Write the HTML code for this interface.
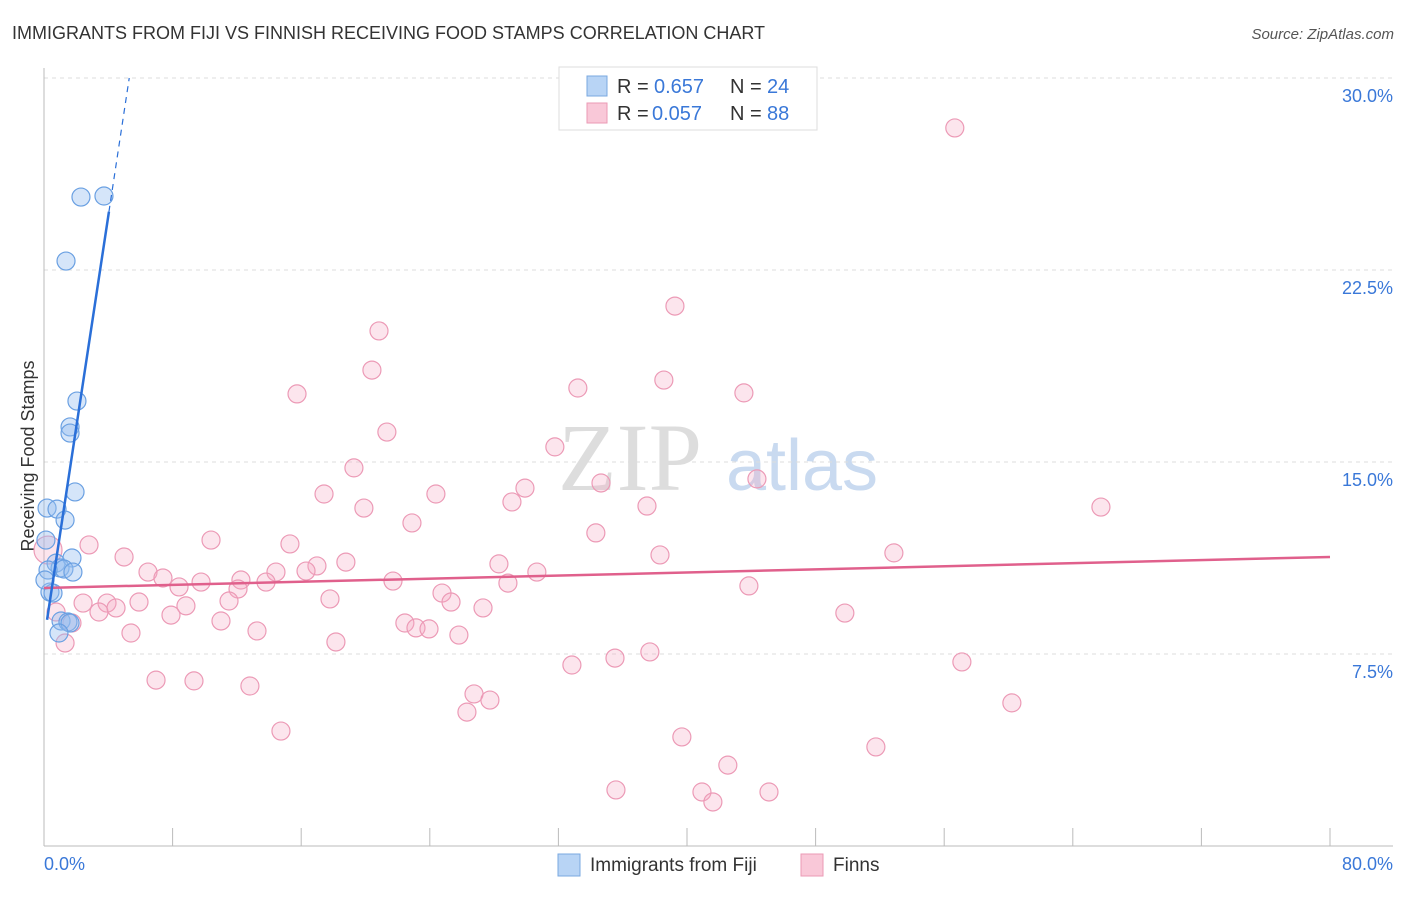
<!DOCTYPE html>
<html><head><meta charset="utf-8"><style>
body{margin:0;background:#fff;font-family:"Liberation Sans",sans-serif;}
</style></head><body>
<svg id="c" width="1406" height="892" xmlns="http://www.w3.org/2000/svg" style="font-family:'Liberation Sans',sans-serif">
<text x="12" y="39" font-size="18" fill="#333">IMMIGRANTS FROM FIJI VS FINNISH RECEIVING FOOD STAMPS CORRELATION CHART</text>
<text x="1394" y="39" font-size="15" fill="#555" text-anchor="end" font-style="italic">Source: ZipAtlas.com</text>
<text x="34" y="456" font-size="18" fill="#333" text-anchor="middle" transform="rotate(-90 34 456)">Receiving Food Stamps</text>
<g><text x="630" y="490" font-size="96" fill="#ddd" text-anchor="middle" font-family="'Liberation Serif',serif">ZIP</text><text x="802" y="490" font-size="72" fill="#c9daf0" text-anchor="middle">atlas</text></g>
<g id="grid"></g><g id="axes"></g><g id="marks"></g>
<g>
<rect x="559" y="67" width="258" height="63" fill="#fff" stroke="#ddd"/>
<rect x="587" y="76" width="20" height="20" fill="#b8d4f5" stroke="#7aa8e0"/>
<rect x="587" y="103" width="20" height="20" fill="#f9c8d8" stroke="#eb9ab5"/>
<text x="617" y="93" font-size="20" fill="#333">R =</text>
<text x="654" y="93" font-size="20" fill="#3a78d8">0.657</text>
<text x="730" y="93" font-size="20" fill="#333">N =</text>
<text x="767" y="93" font-size="20" fill="#3a78d8">24</text>
<text x="617" y="120" font-size="20" fill="#333">R =</text>
<text x="652" y="120" font-size="20" fill="#3a78d8">0.057</text>
<text x="730" y="120" font-size="20" fill="#333">N =</text>
<text x="767" y="120" font-size="20" fill="#3a78d8">88</text>
</g>
<g>
<rect x="558" y="854" width="22" height="22" fill="#b8d4f5" stroke="#7aa8e0"/>
<text x="590" y="871" font-size="19" fill="#333">Immigrants from Fiji</text>
<rect x="801" y="854" width="22" height="22" fill="#f9c8d8" stroke="#eb9ab5"/>
<text x="833" y="871" font-size="19" fill="#333">Finns</text>
</g>
</svg>
<script>
const fijiX=[2.3,3.73,1.37,2.05,1.62,1.62,1.93,0.19,0.81,1.31,0.75,1.74,1.0,1.24,1.8,0.25,0.37,0.56,1.06,1.49,1.62,0.93,0.06,0.12];
const fijiY=[25.35,25.39,22.85,17.38,16.37,16.13,13.83,13.2,13.16,12.73,11.05,11.25,10.86,10.82,10.7,10.78,9.92,9.88,8.79,8.75,8.71,8.32,10.39,11.95];
const finnX=[56.66,39.25,20.84,20.4,38.56,33.21,43.54,15.74,21.33,31.78,19.28,44.35,34.65,29.92,17.42,24.38,29.11,19.9,37.51,65.75,22.89,34.33,2.8,10.39,15.3,4.98,38.32,52.87,18.78,28.3,16.98,6.47,14.43,16.3,30.66,7.4,12.25,8.4,9.77,13.81,21.71,28.86,12.07,43.85,24.76,17.79,2.43,3.92,5.91,11.51,25.32,8.83,3.42,4.48,7.9,27.31,49.82,11.01,22.45,23.14,23.95,5.41,13.25,25.81,18.16,1.31,0.75,1.74,37.69,35.52,32.84,57.1,6.97,9.33,12.81,26.75,27.74,26.31,60.21,14.74,39.68,51.75,42.54,35.58,45.1,40.93,41.61,0.25];
const finnY=[28.05,21.09,20.12,18.59,18.2,17.89,17.7,17.66,16.17,15.59,14.77,14.34,14.18,13.98,13.75,13.75,13.44,13.2,13.28,13.24,12.62,12.23,11.76,11.95,11.8,11.29,11.37,11.45,11.09,11.02,10.94,10.7,10.7,10.74,10.7,10.47,10.39,10.12,10.31,10.31,10.35,10.27,10.04,10.16,9.88,9.65,9.49,9.49,9.53,9.57,9.53,9.38,9.14,9.3,9.02,9.3,9.1,8.79,8.71,8.52,8.48,8.32,8.4,8.24,7.97,7.93,9.14,8.71,7.58,7.34,7.07,7.19,6.48,6.45,6.25,5.94,5.7,5.23,5.59,4.49,4.26,3.87,3.16,2.19,2.11,2.11,1.72,11.56];
const yTicks=[7.5,15,22.5,30];
const yTickLabels=["7.5%","15.0%","22.5%","30.0%"];
const xTicks=[0,8,16,24,32,40,48,56,64,72,80];
const fijiTrend=[8.05,4.14];
const finnTrend=[10.08,11.29];
const X=v=>44+v/80*1286, Y=v=>846-v*25.6;
const NS="http://www.w3.org/2000/svg";
function mk(t,a,p){const e=document.createElementNS(NS,t);for(const k in a)e.setAttribute(k,a[k]);p.appendChild(e);return e;}
const grid=document.getElementById('grid'),axes=document.getElementById('axes'),marks=document.getElementById('marks');
yTicks.forEach((t,i)=>{
 const l=mk('line',{x1:44,x2:1393,y1:Y(t),y2:Y(t),stroke:'#ddd','stroke-dasharray':'4,4'},grid);
 
 
 const tx=mk('text',{x:1393,y:Y(t)+24,'font-size':18,fill:'#3a78d8','text-anchor':'end'},axes);
 tx.textContent=yTickLabels[i];
 
 
});
const ax=mk('line',{x1:44,x2:1393,y1:846,y2:846,stroke:'#bbb'},axes);


const ay=mk('line',{x1:44,x2:44,y1:68,y2:846,stroke:'#bbb'},axes);


xTicks.forEach(t=>{const l=mk('line',{x1:X(t),x2:X(t),y1:828,y2:846,stroke:'#bbb'},axes);
 
 });
const xl0=mk('text',{x:44,y:870,'font-size':18,fill:'#3a78d8'},axes);xl0.textContent=xTicks[0].toFixed(1)+'%';


const xl1=mk('text',{x:1393,y:870,'font-size':18,fill:'#3a78d8','text-anchor':'end'},axes);xl1.textContent=xTicks[xTicks.length-1].toFixed(1)+'%';


finnX.forEach((x,i)=>{const c=mk('circle',{cx:X(x),cy:Y(finnY[i]),r:i==finnX.length-1?14:9,fill:'rgba(246,170,196,0.3)',stroke:'#ec9ab6','stroke-width':1.2},marks);
 
 });
fijiX.forEach((x,i)=>{const c=mk('circle',{cx:X(x),cy:Y(fijiY[i]),r:9,fill:'rgba(150,190,240,0.4)',stroke:'#6aa0e2','stroke-width':1.2},marks);
 
 });
const pl=mk('line',{x1:X(0),y1:Y(finnTrend[0]),x2:X(80),y2:Y(finnTrend[1]),stroke:'#e0608c','stroke-width':2.5},marks);


const xs=0.19,xe=4.04,xd=(30-fijiTrend[0])/fijiTrend[1];
const bl=mk('line',{x1:X(xs),y1:Y(fijiTrend[0]+fijiTrend[1]*xs),x2:X(xe),y2:Y(fijiTrend[0]+fijiTrend[1]*xe),stroke:'#2a6fd8','stroke-width':2.5},marks);


const bd=mk('line',{x1:X(xe),y1:Y(fijiTrend[0]+fijiTrend[1]*xe),x2:X(xd),y2:Y(30),stroke:'#2a6fd8','stroke-width':1.2,'stroke-dasharray':'6,5'},marks);


</script>
</body></html>
